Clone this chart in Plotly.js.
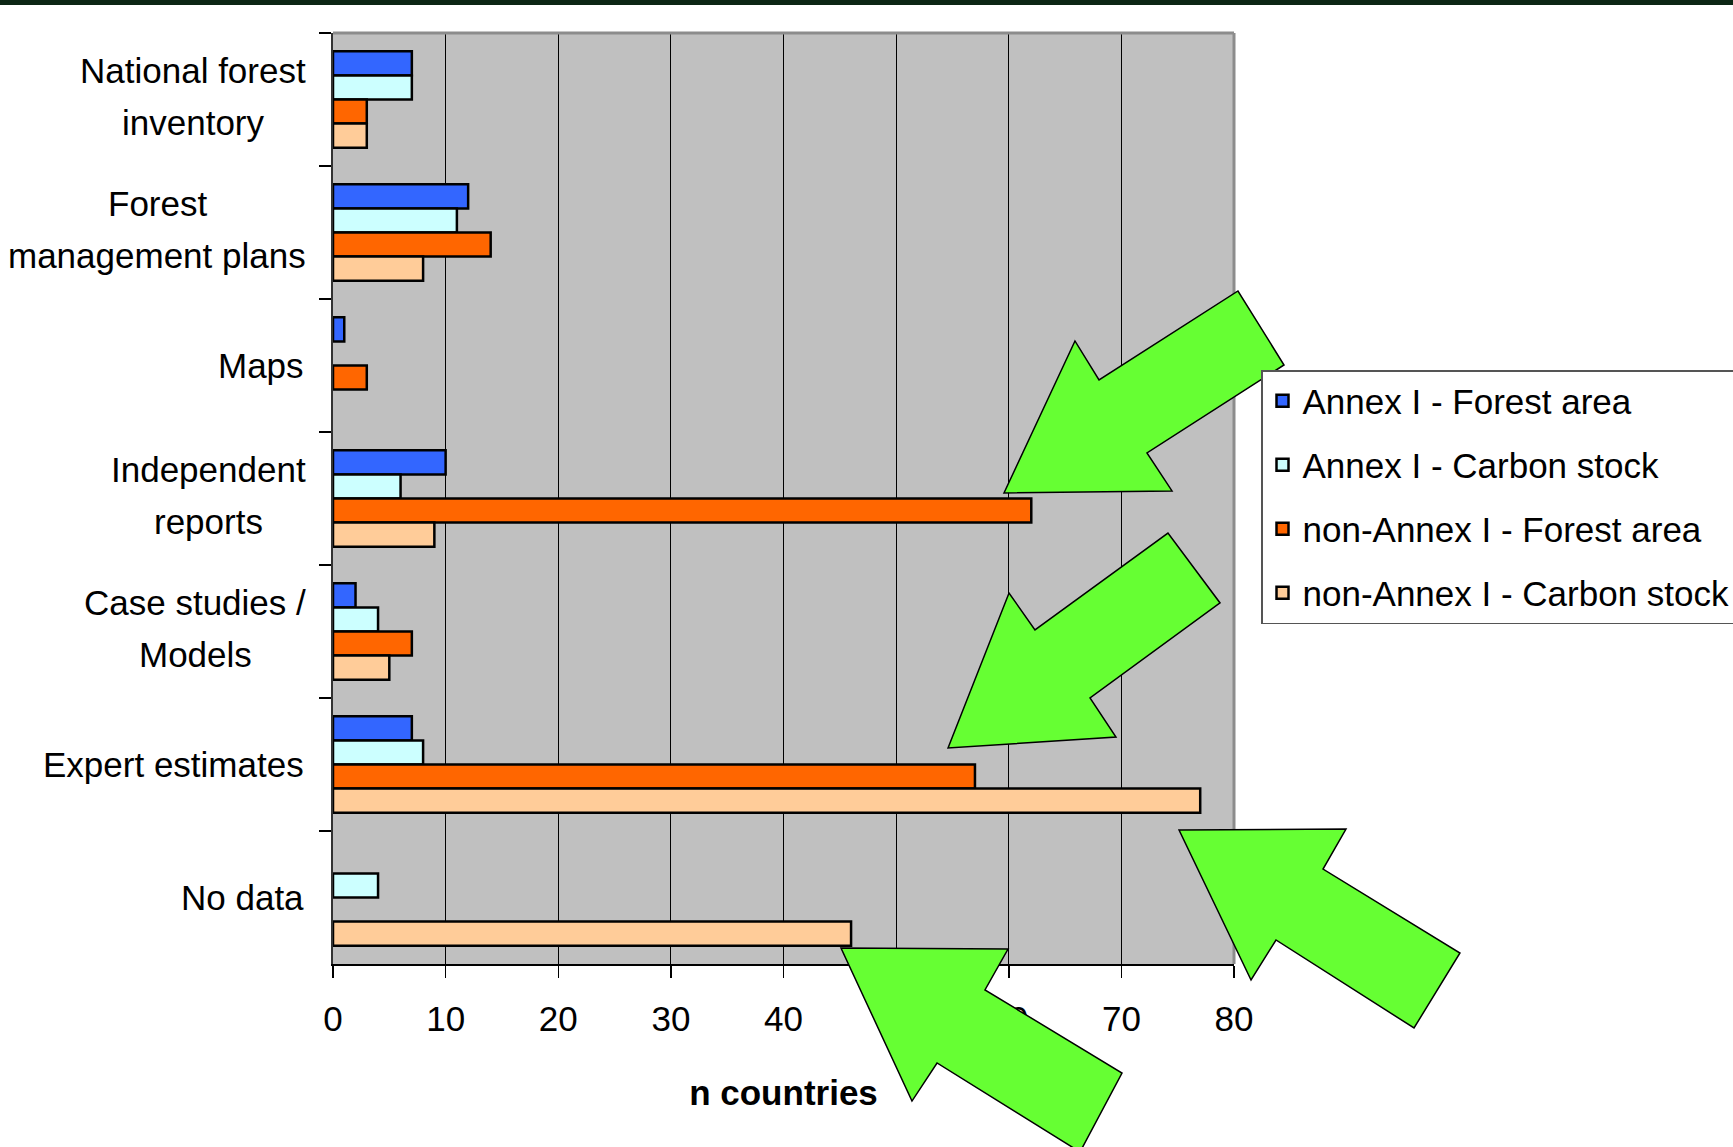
<!DOCTYPE html>
<html>
<head>
<meta charset="utf-8">
<script src="https://cdn.plot.ly/plotly-3.0.1.min.js"></script>
<style>html,body{margin:0;padding:0;background:#fff;}#chart{width:1733px;height:1147px;}</style>
</head>
<body>
<div id="chart"></div>
<script>
// ---- data ----
const categories = ["National forest<br>inventory", "Forest<br>management plans", "Maps", "Independent<br>reports", "Case studies /<br>Models", "Expert estimates", "No data"];
const seriesNames = ["Annex I - Forest area", "Annex I - Carbon stock", "non-Annex I - Forest area", "non-Annex I - Carbon stock"];
const annexForest    = [7, 12, 1, 10, 2, 7, null];
const annexCarbon    = [7, 11, null, 6, 4, 8, 4];
const nonAnnexForest = [3, 14, 3, 62, 7, 57, null];
const nonAnnexCarbon = [3, 8, null, 9, 5, 77, 46];
const xTickVals = [0, 10, 20, 30, 40, 50, 60, 70, 80];
const xTitle = "n countries";

// ---- styling ----
const colors = ["#3366FF", "#CCFFFF", "#FF6600", "#FFCC99"];
const FONT = "Liberation Sans, Arial, sans-serif";
const W = 1733, H = 1147, L = 333, R = 1234, T = 33, B = 964;
function px(x){ return (x - L) / (R - L); }
function py(y){ return (B - y) / (B - T); }
function pathFrom(pts){ return 'M ' + pts.map(p => px(p[0]).toFixed(4) + ',' + py(p[1]).toFixed(4)).join(' L ') + ' Z'; }

const allSeries = [annexForest, annexCarbon, nonAnnexForest, nonAnnexCarbon];
const traces = allSeries.map((vals, i) => ({
  type: 'bar',
  orientation: 'h',
  name: seriesNames[i],
  y: categories,
  x: vals,
  legendgroup: 'g' + i,
  marker: {color: colors[i], line: {color: '#000000', width: 2.5}},
  hoverinfo: 'x+name'
}));

// category labels: one annotation per line, lines centred on each other with a common right edge
const labelFont = {family: FONT, size: 35, color: '#000'};
const cvs = document.createElement('canvas').getContext('2d');
cvs.font = '35px "Liberation Sans", Arial, sans-serif';
const annotations = [];
categories.forEach((c, i) => {
  const lines = c.split('<br>');
  if (lines.length === 1) {
    annotations.push({xref: 'paper', yref: 'y', x: 0, y: i, xanchor: 'right', yanchor: 'middle',
      xshift: -27, yshift: 0, text: lines[0], showarrow: false, font: labelFont});
    return;
  }
  const maxW = Math.max.apply(null, lines.map(l => cvs.measureText(l).width));
  const shifts = [29, -23];
  lines.forEach((ln, k) => {
    annotations.push({xref: 'paper', yref: 'y', x: 0, y: i, xanchor: 'center', yanchor: 'middle',
      xshift: -27 - maxW / 2, yshift: shifts[k], text: ln, showarrow: false, font: labelFont});
  });
});

// decorative green arrows (pixel coords of the picture)
const arrows = [
  [[1004,493],[1075,341],[1099,380],[1238,291],[1284,365],[1147,453],[1172,491]],
  [[948,748],[1009,593],[1035,630],[1168,533],[1220,603],[1090,698],[1116,737]],
  [[1179,830],[1346,829],[1323,869],[1460,953],[1414,1028],[1276,940],[1251,980]],
  [[841,948],[1008,949],[985,990],[1122,1073],[1080,1152],[937,1063],[912,1101]]
];
const shapes = [
  {type: 'rect', xref: 'paper', yref: 'paper', x0: px(-5), x1: px(W + 5), y0: py(5), y1: py(-5), fillcolor: '#0c2614', line: {width: 0}, layer: 'above'},
  {type: 'line', xref: 'paper', yref: 'paper', x0: 0, x1: 1, y0: 1, y1: 1, line: {color: '#8c8c8c', width: 3}, layer: 'above'},
  {type: 'line', xref: 'paper', yref: 'paper', x0: 1, x1: 1, y0: 0, y1: 1, line: {color: '#8c8c8c', width: 3}, layer: 'above'}
];
arrows.forEach(a => shapes.push({type: 'path', xref: 'paper', yref: 'paper', path: pathFrom(a),
  fillcolor: '#66FF33', line: {color: '#000000', width: 1.5}, layer: 'above'}));

const layout = {
  width: W, height: H,
  margin: {l: L, r: W - R, t: T, b: H - B, autoexpand: false},
  paper_bgcolor: '#ffffff',
  plot_bgcolor: '#c0c0c0',
  barmode: 'group',
  bargap: 0.275,
  bargroupgap: 0,
  font: {family: FONT, size: 34, color: '#000'},
  showlegend: true,
  legend: {
    x: px(1261), y: py(370), xanchor: 'left', yanchor: 'top',
    bgcolor: '#ffffff', bordercolor: '#555555', borderwidth: 1.5,
    font: {family: FONT, size: 35, color: '#000'},
    traceorder: 'grouped', tracegroupgap: 15.5
  },
  xaxis: {
    range: [0, 80], tickmode: 'array', tickvals: xTickVals, ticktext: xTickVals.map(String),
    showgrid: true, gridcolor: '#000000', gridwidth: 1, zeroline: false,
    showline: true, linecolor: '#000000', linewidth: 2,
    ticks: 'outside', ticklen: 12, tickcolor: '#000', tickwidth: 1.5,
    ticklabelstandoff: 11,
    tickfont: {family: FONT, size: 35, color: '#000'},
    title: {text: xTitle, font: {family: FONT, size: 35, color: '#000', weight: 'bold'}, standoff: 43},
    automargin: false, fixedrange: true
  },
  yaxis: {
    type: 'category', autorange: 'reversed',
    showticklabels: false, tickson: 'boundaries',
    ticks: 'outside', ticklen: 12, tickcolor: '#000', tickwidth: 1.5,
    showgrid: false, zeroline: false,
    showline: true, linecolor: '#333333', linewidth: 2,
    automargin: false, fixedrange: true
  },
  annotations: annotations,
  shapes: shapes
};

Plotly.newPlot('chart', traces, layout, {displayModeBar: false, staticPlot: true});
</script>
</body>
</html>
